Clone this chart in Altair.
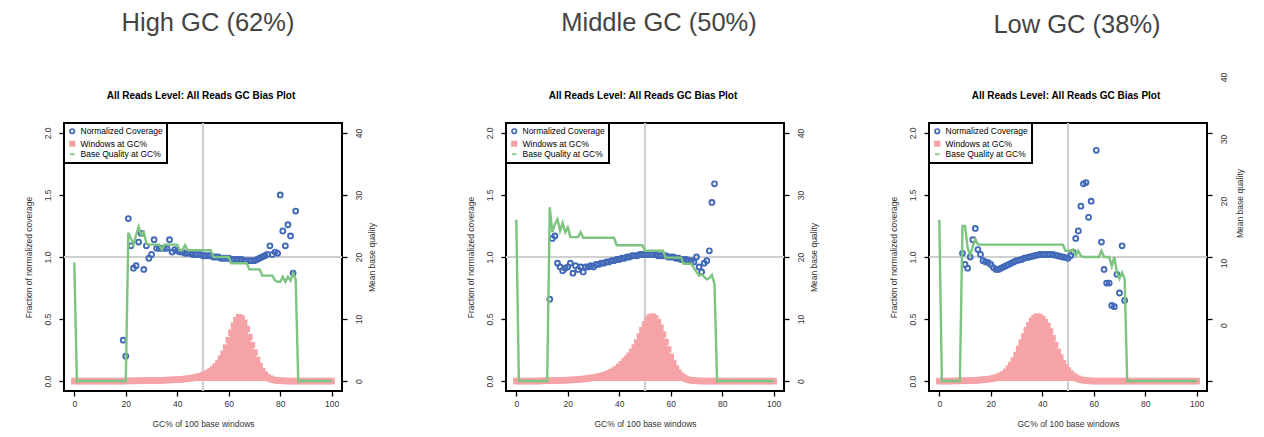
import altair as alt
import pandas as pd

# ---------------- data ----------------
GC = list(range(101))
SERIES = ["Normalized Coverage", "Windows at GC%", "Base Quality at GC%"]
PANEL_TITLES = ["High GC (62%)", "Middle GC (50%)", "Low GC (38%)"]
SUBTITLE = "All Reads Level: All Reads GC Bias Plot"
X_TITLE = "GC% of 100 base windows"
Y_LEFT_TITLE = "Fraction of normalized coverage"
Y_RIGHT_TITLE = "Mean base quality"
X_TICKS = [0, 20, 40, 60, 80, 100]
Y_LEFT_TICKS = [0.0, 0.5, 1.0, 1.5, 2.0]
Y_RIGHT_TICKS = [0, 10, 20, 30, 40]

# --- High GC ---
HIGH_COV_GC = [19, 20, 21, 22, 23, 24, 25, 26, 27, 28, 29, 30, 31, 32, 33, 34, 35, 36, 37, 38,
               39, 40, 41, 42, 43, 44, 45, 46, 47, 48, 49, 50, 51, 52, 53, 54, 55, 56, 57, 58,
               59, 60, 61, 62, 63, 64, 65, 66, 67, 68, 69, 70, 71, 72, 73, 74, 75, 76, 77, 78,
               79, 80, 81, 82, 83, 84, 85, 86]
HIGH_COV = [0.33, 0.20, 1.31, 1.09, 0.91, 0.93, 1.12, 1.19, 0.90, 1.09, 0.99, 1.02, 1.14, 1.07, 1.07, 1.07, 1.07, 1.07, 1.14, 1.04,
            1.06, 1.05, 1.04, 1.04, 1.03, 1.03, 1.03, 1.02, 1.02, 1.02, 1.02, 1.01, 1.01, 1.01, 1.01, 1.00, 1.00, 1.00, 0.99, 0.99,
            0.99, 0.99, 0.98, 0.98, 0.98, 0.98, 0.98, 0.97, 0.97, 0.97, 0.97, 0.97, 0.98, 0.99, 1.00, 1.01, 1.02, 1.09, 1.02, 1.04,
            1.03, 1.50, 1.21, 1.09, 1.26, 1.17, 0.87, 1.37]
HIGH_WIN = [0, 0, 0, 0, 0, 0, 0, 0, 0, 0,
            0, 0, 0, 0, 0, 0, 0, 0, 0, 0,
            0.001, 0.001, 0.002, 0.002, 0.002, 0.002, 0.003, 0.003, 0.003, 0.004,
            0.004, 0.004, 0.005, 0.005, 0.006, 0.007, 0.008, 0.009, 0.010, 0.011,
            0.012, 0.013, 0.015, 0.017, 0.019, 0.022, 0.025, 0.029, 0.034, 0.040,
            0.047, 0.056, 0.067, 0.080, 0.097, 0.118, 0.145, 0.180, 0.220, 0.270,
            0.330, 0.390, 0.445, 0.490, 0.515, 0.505, 0.470, 0.420, 0.355, 0.290,
            0.230, 0.170, 0.120, 0.080, 0.052, 0.033, 0.020, 0.012, 0.007, 0.004,
            0.003, 0.002, 0.001, 0.001, 0, 0, 0, 0, 0, 0,
            0, 0, 0, 0, 0, 0, 0, 0, 0, 0, 0]
HIGH_QUAL = [19.1,
             0, 0, 0, 0, 0, 0, 0, 0, 0, 0, 0, 0, 0, 0, 0, 0, 0, 0, 0, 0,
             23.9, 23.0, 22.0, 23.5, 24.9, 23.5, 24.0, 22.2, 22.0, 22.0,
             22.0, 22.0, 22.0, 21.2, 22.0, 22.0, 22.0, 22.0, 22.0, 22.0,
             21.1, 21.1, 21.9, 21.1, 21.1, 21.1, 21.1, 21.1, 21.1, 21.1,
             21.1, 21.1, 21.1, 20.0, 20.0, 20.0, 20.0, 20.0, 20.0, 20.0,
             19.0, 19.0, 19.0, 19.0, 19.0, 19.0, 19.0, 18.0, 18.0, 18.0,
             18.0, 18.0, 17.0, 17.0, 17.0, 17.0, 17.0, 16.2, 16.0, 16.0,
             16.8, 16.0, 16.8, 16.2, 17.4, 16.4, 0, 0, 0, 0,
             0, 0, 0, 0, 0, 0, 0, 0, 0, 0]

# --- Middle GC ---
MID_COV_GC = [13, 14, 15, 16, 17, 18, 19, 20, 21, 22, 23, 24, 25, 26, 27, 28, 29, 30, 31, 32,
              33, 34, 35, 36, 37, 38, 39, 40, 41, 42, 43, 44, 45, 46, 47, 48, 49, 50, 51, 52,
              53, 54, 55, 56, 57, 58, 59, 60, 61, 62, 63, 64, 65, 66, 67, 68, 69, 70, 71, 72,
              73, 74, 75, 76, 77]
MID_COV = [0.66, 1.15, 1.17, 0.95, 0.92, 0.89, 0.91, 0.92, 0.95, 0.87, 0.93, 0.90, 0.92, 0.88, 0.92, 0.92, 0.93, 0.92, 0.94, 0.94,
           0.95, 0.95, 0.96, 0.96, 0.97, 0.97, 0.98, 0.98, 0.99, 0.99, 1.00, 1.00, 1.01, 1.01, 1.01, 1.02, 1.02, 1.02, 1.02, 1.02,
           1.02, 1.02, 1.01, 1.01, 1.01, 1.01, 1.00, 1.00, 1.00, 0.99, 0.99, 0.98, 0.98, 0.98, 0.97, 0.97, 0.96, 1.00, 0.92, 0.88,
           0.95, 0.97, 1.05, 1.44, 1.59]
MID_WIN = [0, 0, 0, 0, 0, 0, 0, 0, 0, 0,
           0.002, 0.002, 0.003, 0.003, 0.004, 0.004, 0.005, 0.005, 0.006, 0.007,
           0.008, 0.009, 0.010, 0.011, 0.013, 0.015, 0.017, 0.019, 0.022, 0.025,
           0.028, 0.032, 0.036, 0.041, 0.047, 0.054, 0.062, 0.072, 0.084, 0.098,
           0.115, 0.135, 0.158, 0.180, 0.205, 0.235, 0.270, 0.310, 0.360, 0.410,
           0.455, 0.495, 0.515, 0.520, 0.505, 0.475, 0.430, 0.375, 0.315, 0.255,
           0.195, 0.145, 0.100, 0.068, 0.044, 0.028, 0.017, 0.010, 0.006, 0.004,
           0.002, 0.001, 0.001, 0, 0, 0, 0, 0, 0, 0,
           0, 0, 0, 0, 0, 0, 0, 0, 0, 0,
           0, 0, 0, 0, 0, 0, 0, 0, 0, 0, 0]
MID_QUAL = [26.0,
            0, 0, 0, 0, 0, 0, 0, 0, 0, 0, 0, 0,
            28.0, 24.0, 25.3, 26.1, 24.2, 25.5, 24.0, 24.8,
            23.2, 23.2, 23.2, 23.2, 24.0,
            23.1, 23.1, 23.1, 23.1, 23.1, 23.1, 23.1, 23.1, 23.1, 23.1, 23.1, 23.1, 23.1,
            21.9, 21.9, 21.9, 21.9, 21.9, 21.9, 21.9, 21.9, 21.9, 21.9, 21.9,
            21.0, 21.0, 21.0, 21.0, 21.0, 21.0, 21.0, 21.0,
            19.9, 19.9, 19.9, 19.9, 19.9, 19.9, 19.9,
            18.9, 18.9, 18.9, 18.9,
            18.2, 17.6, 17.0, 17.2, 16.8, 16.4, 16.6, 17.1, 15.6,
            0, 0, 0, 0, 0, 0, 0, 0, 0, 0, 0, 0, 0, 0, 0, 0, 0, 0, 0, 0, 0, 0, 0]

# --- Low GC ---
LOW_COV_GC = [9, 10, 11, 12, 13, 14, 15, 16, 17, 18, 19, 20, 21, 22, 23, 24, 25, 26, 27, 28,
              29, 30, 31, 32, 33, 34, 35, 36, 37, 38, 39, 40, 41, 42, 43, 44, 45, 46, 47, 48,
              49, 50, 51, 52, 53, 54, 55, 56, 57, 58, 59, 61, 63, 64, 65, 66, 67, 68, 69, 70,
              71, 72]
LOW_COV = [1.03, 0.94, 0.91, 1.00, 1.14, 1.23, 1.06, 1.02, 0.97, 0.96, 0.955, 0.94, 0.915, 0.90, 0.90, 0.91, 0.92, 0.93, 0.94, 0.95,
           0.96, 0.97, 0.975, 0.98, 0.99, 0.995, 1.00, 1.005, 1.01, 1.015, 1.02, 1.02, 1.02, 1.02, 1.02, 1.02, 1.015, 1.01, 1.005, 1.00,
           0.995, 0.99, 1.01, 1.04, 1.15, 1.21, 1.41, 1.59, 1.60, 1.32, 1.45, 1.86, 1.12, 0.90, 0.79, 0.79, 0.61, 0.60, 0.86, 0.71,
           1.09, 0.65]
LOW_WIN = [0, 0, 0, 0, 0, 0.001, 0.001, 0.001, 0.002, 0.002,
           0.003, 0.003, 0.004, 0.005, 0.006, 0.007, 0.009, 0.011, 0.013, 0.015,
           0.018, 0.022, 0.028, 0.035, 0.044, 0.055, 0.075, 0.100, 0.130, 0.165,
           0.210, 0.260, 0.310, 0.360, 0.410, 0.450, 0.485, 0.508, 0.520, 0.515,
           0.500, 0.475, 0.445, 0.400, 0.345, 0.290, 0.235, 0.190, 0.145, 0.110,
           0.085, 0.060, 0.042, 0.028, 0.018, 0.011, 0.007, 0.004, 0.002, 0.001,
           0, 0, 0, 0, 0, 0, 0, 0, 0, 0,
           0, 0, 0, 0, 0, 0, 0, 0, 0, 0,
           0, 0, 0, 0, 0, 0, 0, 0, 0, 0,
           0, 0, 0, 0, 0, 0, 0, 0, 0, 0, 0]
LOW_QUAL = [26.0,
            0, 0, 0, 0, 0, 0, 0, 0,
            25.0, 25.0, 21.5, 20.3, 21.7, 22.9,
            22.0, 22.0, 22.0, 22.0, 22.0, 22.0, 22.0, 22.0, 22.0, 22.0,
            22.0, 22.0, 22.0, 22.0, 22.0, 22.0, 22.0, 22.0, 22.0, 22.0,
            22.0, 22.0, 22.0, 22.0, 22.0, 22.0, 22.0, 22.0, 22.0, 22.0,
            22.0, 22.0, 22.0, 22.0,
            21.0, 21.0, 21.0, 21.2, 20.2, 21.0, 20.2,
            20.0, 20.0, 20.0, 20.0, 20.0, 20.0, 20.0,
            21.0, 20.0, 20.0, 20.0, 18.5, 20.0, 17.5, 16.5, 17.5, 16.5,
            0, 0, 0, 0, 0, 0, 0, 0, 0, 0, 0, 0, 0, 0,
            0, 0, 0, 0, 0, 0, 0, 0, 0, 0, 0, 0, 0, 0]

# ---------------- style ----------------
FONT = "Liberation Sans"
BLUE = "#4169B8"
PINK = "#F5A3A6"
GREEN = "#7CC47F"
GREY = "#D0D0D0"
W, H = 278, 268


def panel(title, cov_gc, cov, win, qual, title_dx, title_offset,
          right_label_offset=None, right_title_y=None):
    xs = alt.Scale(domain=[-4, 104], nice=False, zero=False)
    ys = alt.Scale(domain=[-0.08, 2.08], nice=False, zero=False)
    qs = alt.Scale(domain=[-1.6, 41.6], nice=False, zero=False)
    x_axis = alt.Axis(values=X_TICKS, title=X_TITLE, labelAngle=0,
                      labelPadding=3, titlePadding=12)
    y_axis = alt.Axis(values=Y_LEFT_TICKS, format=".1f", title=Y_LEFT_TITLE,
                      orient="left", labelAngle=270, labelPadding=7, titlePadding=10)
    rkw = dict(values=Y_RIGHT_TICKS, title=Y_RIGHT_TITLE, orient="right",
               labelAngle=270, titleAngle=270, labelPadding=7, titlePadding=14)
    if right_label_offset is not None:
        rkw["labelOffset"] = right_label_offset
    if right_title_y is not None:
        rkw["titleY"] = right_title_y
        rkw["titleX"] = 32
        rkw["titleBaseline"] = "middle"
    q_axis = alt.Axis(**rkw)

    X = alt.X("gc:Q", scale=xs, axis=x_axis)
    Y = alt.Y("val:Q", scale=ys, axis=y_axis)

    df_one = pd.DataFrame({"k": [0]})
    df_cov = pd.DataFrame({"gc": cov_gc, "val": cov})
    df_win = pd.DataFrame({"gc": GC, "val": win})
    df_q = pd.DataFrame({"gc": GC, "q": qual})
    df_leg = pd.DataFrame({"series": SERIES, "gc": [0, 0, 0], "val": [0, 0, 0]})

    vrule = alt.Chart(df_one).mark_rule(color=GREY, strokeWidth=2.2).encode(
        x=alt.X(datum=50, type="quantitative", scale=xs, axis=x_axis))
    hrule = alt.Chart(df_one).mark_rule(color=GREY, strokeWidth=2.2).encode(
        y=alt.Y(datum=1.0, type="quantitative", scale=ys, axis=y_axis))
    circles = alt.Chart(df_cov).mark_point(
        shape="circle", filled=False, color=BLUE, size=24, strokeWidth=1.9, opacity=1
    ).encode(x=X, y=Y)
    area = alt.Chart(df_win).mark_area(
        color=PINK, opacity=1, interpolate="step", strokeWidth=0
    ).encode(x=X, y=Y, y2=alt.Y2(datum=0))
    squares = alt.Chart(df_win).mark_square(color=PINK, size=42, opacity=1).encode(x=X, y=Y)

    leg = alt.Legend(title=None, orient="top-left", offset=0, padding=4,
                     strokeColor="black", fillColor="white",
                     labelFont=FONT, labelFontSize=8.5, labelColor="black",
                     symbolSize=20, symbolStrokeWidth=1.7, symbolOpacity=1,
                     rowPadding=0.5, labelOffset=4, labelLimit=300)
    legend_layer = alt.Chart(df_leg).mark_point(opacity=0).encode(
        x=X, y=Y,
        stroke=alt.Stroke("series:N", scale=alt.Scale(domain=SERIES, range=[BLUE, PINK, GREEN]), legend=leg),
        fill=alt.Fill("series:N", scale=alt.Scale(domain=SERIES, range=["transparent", PINK, "transparent"]), legend=leg),
        shape=alt.Shape("series:N", scale=alt.Scale(domain=SERIES, range=["circle", "square", "stroke"]), legend=leg),
    )
    sub = alt.Chart(df_one).mark_text(
        text=SUBTITLE, font=FONT, fontSize=10, fontWeight="bold", color="black"
    ).encode(x=alt.value(W / 2 - 2), y=alt.value(-27))

    left = alt.layer(vrule, hrule, circles, area, squares, legend_layer, sub)
    green = alt.Chart(df_q).mark_line(color=GREEN, strokeWidth=2.4).encode(
        x=X, y=alt.Y("q:Q", scale=qs, axis=q_axis))

    return alt.layer(left, green).resolve_scale(y="independent").properties(
        width=W, height=H,
        title=alt.TitleParams(text=title, font=FONT, fontSize=25.5, fontWeight="normal",
                              color="#444444", anchor="middle", frame="group",
                              dx=title_dx, offset=title_offset))


p1 = panel(PANEL_TITLES[0], HIGH_COV_GC, HIGH_COV, HIGH_WIN, HIGH_QUAL, 5, 55)
p2 = panel(PANEL_TITLES[1], MID_COV_GC, MID_COV, MID_WIN, MID_QUAL, 14, 55)
p3 = panel(PANEL_TITLES[2], LOW_COV_GC, LOW_COV, LOW_WIN, LOW_QUAL, 9, 34,
           right_label_offset=-56, right_title_y=80)

RES = dict(x="independent", y="independent", stroke="independent",
           fill="independent", shape="independent")
inner = alt.hconcat(p1, p2, spacing=88).resolve_scale(**RES).resolve_legend(
    stroke="independent", fill="independent", shape="independent")
chart = alt.hconcat(inner, p3, spacing=69).resolve_scale(**RES).resolve_legend(
    stroke="independent", fill="independent", shape="independent")

chart = chart.properties(
    padding={"left": 15, "top": 1, "right": 5, "bottom": 5}
).configure_view(stroke="black", strokeWidth=2).configure_axis(
    domain=False, grid=False, tickColor="black", tickSize=5, tickWidth=1.3,
    labelFont=FONT, labelFontSize=8.5, labelColor="#333333",
    titleFont=FONT, titleFontSize=8.5, titleFontWeight="normal", titleColor="#333333"
).configure_legend(strokeWidth=2)

chart.save("out.html", embed_options={"renderer": "svg", "actions": False})
